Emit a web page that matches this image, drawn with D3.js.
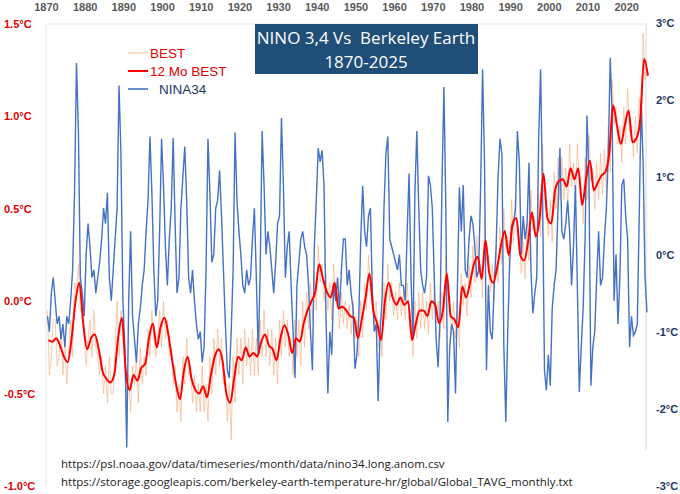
<!DOCTYPE html>
<html><head><meta charset="utf-8">
<script src="https://cdn.jsdelivr.net/npm/d3@7"></script>
<style>body{margin:0;background:#fff}svg{display:block}</style>
</head><body><svg id="c" width="680" height="494"></svg>
<script>
// 12-month smoothed Berkeley Earth, one value per year 1870..2025
var best12 = [-0.21,-0.22,-0.2,-0.24,-0.3,-0.33,-0.2,0.0,0.1,-0.12,
-0.26,-0.2,-0.18,-0.26,-0.38,-0.42,-0.44,-0.4,-0.2,-0.09,
-0.38,-0.48,-0.4,-0.43,-0.36,-0.34,-0.2,-0.12,-0.25,-0.14,
-0.09,-0.18,-0.32,-0.45,-0.53,-0.38,-0.3,-0.42,-0.48,-0.5,
-0.46,-0.52,-0.4,-0.3,-0.26,-0.32,-0.5,-0.55,-0.42,-0.3,
-0.32,-0.25,-0.3,-0.28,-0.3,-0.22,-0.18,-0.24,-0.26,-0.32,
-0.2,-0.13,-0.18,-0.28,-0.2,-0.22,-0.12,-0.05,0.0,0.05,
0.2,0.12,0.05,0.02,0.1,-0.04,-0.03,-0.05,-0.08,-0.09,
-0.2,-0.1,0.02,0.15,-0.05,-0.12,-0.21,0.0,0.1,0.02,
-0.02,0.02,-0.02,0.0,-0.21,-0.12,-0.05,-0.05,-0.08,0.0,
-0.02,-0.12,-0.05,0.15,-0.08,-0.1,-0.14,0.08,0.02,0.1,
0.2,0.24,0.12,0.33,0.15,0.1,0.18,0.3,0.38,0.25,
0.42,0.45,0.25,0.22,0.32,0.48,0.35,0.45,0.69,0.45,
0.42,0.6,0.65,0.66,0.62,0.72,0.66,0.72,0.52,0.66,
0.76,0.6,0.64,0.68,0.7,0.8,1.06,0.95,0.85,0.95,
1.03,0.86,0.88,0.98,1.31,1.22];

// raw Berkeley Earth, two readings per year 1870..2025
var bestRaw = [-0.05,-0.4,-0.3,-0.1,-0.1,-0.35,-0.3,-0.15,-0.4,-0.2,-0.45,-0.25,-0.1,-0.3,0.1,0.05,0.2,-0.05,
-0.05,-0.2,-0.35,-0.2,-0.1,-0.3,-0.05,-0.25,-0.3,-0.4,-0.3,-0.5,-0.35,-0.55,-0.3,-0.5,-0.5,-0.25,0.0,-0.3,-0.05,-0.2,
-0.3,-0.5,-0.4,-0.6,-0.35,-0.45,-0.3,-0.55,-0.25,-0.45,-0.3,-0.4,-0.15,-0.3,-0.05,-0.2,-0.3,-0.2,-0.05,-0.25,
0.0,-0.2,-0.1,-0.3,-0.25,-0.45,-0.35,-0.6,-0.45,-0.65,-0.3,-0.45,-0.2,-0.4,-0.35,-0.55,-0.4,-0.6,-0.45,-0.6,
-0.35,-0.6,-0.45,-0.65,-0.3,-0.5,-0.2,-0.4,-0.15,-0.35,-0.2,-0.45,-0.4,-0.65,-0.45,-0.75,-0.3,-0.55,-0.2,-0.4,
-0.2,-0.45,-0.15,-0.35,-0.2,-0.4,-0.15,-0.4,-0.2,-0.4,-0.1,-0.3,-0.05,-0.3,-0.15,-0.35,-0.15,-0.4,-0.2,-0.45,
-0.1,-0.3,-0.05,-0.25,-0.1,-0.3,-0.2,-0.4,-0.1,-0.3,-0.1,-0.35,0.0,-0.25,0.05,-0.15,0.1,-0.1,0.15,-0.05,
0.3,0.1,0.2,0.0,0.15,-0.05,0.1,-0.1,0.2,0.0,0.05,-0.15,0.05,-0.12,0.0,-0.15,-0.02,-0.18,0.0,-0.2,
-0.1,-0.3,0.0,-0.2,0.1,-0.05,0.25,0.05,0.05,-0.15,0.0,-0.25,-0.1,-0.3,0.1,-0.1,0.2,0.0,0.1,-0.08,
0.05,-0.1,0.1,-0.08,0.05,-0.1,0.1,-0.1,-0.1,-0.3,0.0,-0.2,0.05,-0.15,0.05,-0.15,0.0,-0.18,0.1,-0.1,
0.05,-0.12,0.0,-0.2,0.05,-0.15,0.25,0.05,0.02,-0.18,0.0,-0.2,-0.05,-0.25,0.15,-0.02,0.1,-0.08,0.2,0.02,
0.3,0.1,0.35,0.15,0.2,0.02,0.45,0.22,0.25,0.05,0.2,0.0,0.3,0.1,0.4,0.2,0.5,0.28,0.35,0.15,
0.55,0.32,0.55,0.35,0.35,0.15,0.32,0.12,0.42,0.22,0.6,0.38,0.45,0.25,0.58,0.35,0.85,0.58,0.55,0.35,
0.55,0.32,0.7,0.5,0.78,0.55,0.78,0.55,0.72,0.52,0.85,0.62,0.75,0.55,0.85,0.62,0.62,0.42,0.78,0.55,
0.9,0.65,0.72,0.5,0.75,0.55,0.8,0.58,0.82,0.6,0.95,0.7,1.2,0.95,1.05,0.85,0.95,0.75,1.05,0.85,
1.15,0.92,0.95,0.78,1.0,0.8,1.1,0.88,1.45,1.2,1.3];

// NINO 3.4 anomaly, two readings per year 1870..2025
var nino34 = [-0.8,-1.0,-0.5,-0.3,-0.6,-0.9,-0.8,-1.1,-0.9,-1.2,-0.8,-0.9,-0.6,-0.2,0.8,2.48,1.6,-0.3,-0.5,-0.8,
0.0,0.4,0.1,-0.3,-0.2,-0.5,-0.3,-0.1,0.2,0.6,0.4,0.8,-0.3,-0.6,-0.2,0.2,0.6,2.19,1.3,-0.6,
-1.2,-2.5,-0.6,0.3,-0.8,-1.1,-1.4,-0.9,-0.7,-0.4,-0.2,0.3,0.7,1.53,0.8,-0.2,-0.8,-0.6,0.3,1.5,
0.9,0.1,-0.4,0.2,0.6,1.51,0.4,-0.5,-0.3,0.6,1.0,1.4,0.7,-0.3,-0.5,-0.2,-0.6,-0.9,-1.1,-1.0,
-1.4,-1.2,-0.2,1.5,0.8,-0.1,0.0,0.6,0.7,1.09,0.5,-0.2,-0.9,-1.5,-1.6,-1.0,-0.2,1.58,0.7,0.3,
0.0,-0.4,-0.5,-0.2,-0.4,-0.3,0.2,0.6,-0.3,-1.3,-0.2,1.6,0.9,0.0,0.3,0.1,-0.2,-0.5,-0.1,0.4,
0.5,1.77,0.9,-0.3,0.1,0.3,-0.4,-1.0,-1.6,-0.4,-0.1,0.2,0.3,0.1,0.0,-0.4,-1.0,-1.5,0.1,0.7,
1.38,1.2,1.35,0.9,-0.8,-1.8,-1.0,-1.3,-0.4,-0.6,-0.3,-0.7,-0.2,0.2,0.2,-0.4,-0.2,-0.5,-0.7,-1.48,
-1.3,-0.8,0.2,0.89,0.3,0.1,0.5,0.6,-0.5,-1.0,-0.9,-1.9,-1.0,-0.6,0.6,1.3,1.53,0.2,0.1,0.0,
-0.1,-0.2,0.0,-0.4,-0.4,-0.6,0.3,1.05,-0.3,-1.1,0.8,1.6,0.6,-0.2,-0.4,-0.5,-0.3,1.02,0.9,0.6,
-0.3,-1.1,-1.46,-0.8,0.9,2.17,0.6,-2.17,-1.2,-0.9,-1.0,-1.8,-0.4,0.87,0.3,0.9,-0.2,-0.3,0.2,0.5,
0.4,0.1,-0.3,-0.2,0.9,2.4,1.2,-1.5,-0.4,-1.0,-1.1,-0.4,0.1,1.0,1.5,1.3,-1.2,-2.17,-1.0,-0.1,
0.3,0.4,0.6,1.6,1.2,0.0,0.5,0.2,0.4,1.19,-0.2,-0.76,-0.5,-0.3,1.5,2.4,0.8,-1.5,-1.76,-1.3,
-1.7,-0.7,-0.4,-0.2,0.6,1.38,0.3,0.2,0.4,0.7,0.3,-0.4,0.1,0.9,-0.4,-1.78,-1.2,-0.7,0.2,1.8,
1.0,-1.7,-1.2,-1.0,-0.3,0.3,-0.4,-0.3,0.2,0.6,1.3,2.55,1.8,-0.6,0.0,-0.9,-0.3,0.9,0.98,0.5,
0.2,-1.2,-0.8,-1.05,-1.0,-0.9,0.5,2.0,1.2,-0.3,-0.75];

var yearTicks = d3.range(1870, 2021, 10);
var leftTicks = [-1.0, -0.5, 0.0, 0.5, 1.0, 1.5];
var rightTicks = [-3, -2, -1, 0, 1, 2, 3];
var sources = ["https://psl.noaa.gov/data/timeseries/month/data/nino34.long.anom.csv",
  "https://storage.googleapis.com/berkeley-earth-temperature-hr/global/Global_TAVG_monthly.txt"];

var svg = d3.select("#c");
var x = d3.scaleLinear().domain([1870, 2025]).range([46.5, 646]);
var yL = d3.scaleLinear().domain([-1, 1.5]).range([486, 24]);
var yR = d3.scaleLinear().domain([-3, 3]).range([486, 23]);

// frame
svg.append("line").attr("x1", 46).attr("x2", 646).attr("y1", 24).attr("y2", 24).attr("stroke", "#e4e4e4");
svg.append("line").attr("x1", 46).attr("x2", 46).attr("y1", 24).attr("y2", 486).attr("stroke", "#e4e4e4");
svg.append("line").attr("x1", 646).attr("x2", 646).attr("y1", 24).attr("y2", 450).attr("stroke", "#d9d9d9");

function half(d, i) { return 1870.25 + i * 0.5; }

svg.append("path").datum(bestRaw)
  .attr("fill", "none").attr("stroke", "#f4b183").attr("stroke-width", 0.8).attr("opacity", 0.8)
  .attr("d", d3.line().x(function (d, i) { return x(half(d, i)); }).y(function (d) { return yL(d); }));

svg.append("path").datum(nino34)
  .attr("fill", "none").attr("stroke", "#4472c4").attr("stroke-width", 1.4)
  .attr("d", d3.line().x(function (d, i) { return x(half(d, i)); }).y(function (d) { return yR(d); }));

svg.append("path").datum(best12)
  .attr("fill", "none").attr("stroke", "#ff0000").attr("stroke-width", 2)
  .attr("d", d3.line().curve(d3.curveMonotoneX)
    .x(function (d, i) { return x(1870 + i + 0.5); }).y(function (d) { return yL(d); }));

// axes text
var lab = "font-family:Arial,'Liberation Sans',sans-serif;font-weight:bold;font-size:11px";
svg.selectAll(".yt").data(yearTicks).enter().append("text")
  .attr("x", function (d) { return x(d); }).attr("y", 11).attr("text-anchor", "middle")
  .attr("style", lab).attr("fill", "#595959").text(function (d) { return d; });
svg.selectAll(".lt").data(leftTicks).enter().append("text")
  .attr("x", 4).attr("y", function (d) { return yL(d) + 4; })
  .attr("style", lab).attr("fill", "#e00000").text(function (d) { return d.toFixed(1) + "°C"; });
svg.selectAll(".rt").data(rightTicks).enter().append("text")
  .attr("x", 656).attr("y", function (d) { return yR(d) + 4; })
  .attr("style", lab).attr("fill", "#1f3864").text(function (d) { return d + "°C"; });

// title
svg.append("rect").attr("x", 255).attr("y", 24).attr("width", 223).attr("height", 50).attr("fill", "#1f4e79");
var tf = "font-family:'Open Sans',Arial,sans-serif;font-size:17px;white-space:pre";
svg.append("text").attr("x", 366).attr("y", 44).attr("text-anchor", "middle").attr("fill", "#fff").attr("style", tf)
  .text("NINO 3,4 Vs  Berkeley Earth");
svg.append("text").attr("x", 366).attr("y", 68).attr("text-anchor", "middle").attr("fill", "#fff").attr("style", tf)
  .text("1870-2025");

// legend
var lf = "font-family:Arial,'Liberation Sans',sans-serif;font-size:13.5px";
var legend = [
  { t: "BEST", c: "#f4b183", w: 0.8, tc: "#e00000", dx: 150 },
  { t: "12 Mo BEST", c: "#ff0000", w: 2, tc: "#e00000", dx: 150 },
  { t: "NINA34", c: "#4472c4", w: 1.6, tc: "#1f3864", dx: 159 }
];
legend.forEach(function (l, i) {
  var yy = 53 + i * 18;
  svg.append("line").attr("x1", 128).attr("x2", 148).attr("y1", yy).attr("y2", yy)
    .attr("stroke", l.c).attr("stroke-width", l.w);
  svg.append("text").attr("x", l.dx).attr("y", yy + 5).attr("fill", l.tc).attr("style", lf).text(l.t);
});

// sources
sources.forEach(function (s, i) {
  svg.append("text").attr("x", 61).attr("y", 468 + i * 18).attr("fill", "#222")
    .attr("style", "font-family:'Open Sans',Arial,sans-serif;font-size:11.5px").text(s);
});
</script></body></html>
